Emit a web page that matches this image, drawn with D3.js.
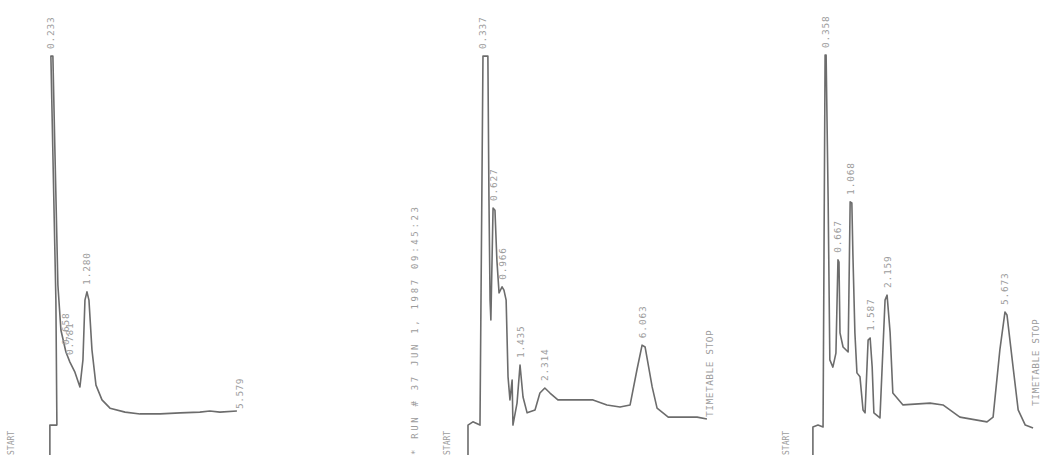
<!DOCTYPE html>
<html>
<head>
<meta charset="utf-8">
<script src="https://cdn.jsdelivr.net/npm/d3@7/dist/d3.min.js"></script>
<style>
  body { margin: 0; background: #fff; }
  svg { display: block; }
  text { font-family: 'DejaVu Sans Mono', monospace; fill: #9c9c9c; }
</style>
</head>
<body>
<svg id="chart" width="1048" height="459"></svg>
<script>
// three integrator runs: retention time (min) vs detector signal (% of tallest peak)
var run1Time   = [0.17, 0.17, 0.38, 0.35, 0.20, 0.26, 0.32, 0.41, 0.50, 0.65, 0.77, 0.92, 1.07, 1.16, 1.22, 1.28, 1.34, 1.43, 1.55, 1.73, 1.97, 2.42, 2.87, 3.47, 4.07, 4.66, 4.96, 5.26, 5.77];
var run1Signal = [-11.1, -2.8, -2.8, 31.9, 99.7, 99.7, 73.6, 36.1, 23.6, 17.5, 14.7, 11.9, 7.8, 15.3, 31.9, 34.2, 31.9, 18.1, 8.3, 4.2, 1.9, 0.8, 0.3, 0.3, 0.6, 0.8, 1.1, 0.8, 1.1];
var run1Peaks  = ['0.233', '0.658', '0.781', '1.280'];
var run1End    = '5.579';

var run2Time   = [-0.36, -0.36, -0.18, 0.08, 0.19, 0.37, 0.41, 0.45, 0.48, 0.56, 0.63, 0.70, 0.78, 0.89, 0.96, 1.04, 1.07, 1.11, 1.18, 1.26, 1.29, 1.44, 1.55, 1.66, 1.81, 2.10, 2.28, 2.46, 2.65, 2.94, 3.38, 4.23, 4.74, 5.22, 5.59, 5.84, 6.03, 6.14, 6.40, 6.58, 6.99, 8.05, 8.41];
var run2Signal = [-11.1, -2.8, -1.9, -2.8, 99.7, 99.7, 59.7, 31.9, 26.4, 57.5, 56.9, 43.1, 33.9, 35.6, 34.7, 31.9, 22.8, 10.6, 4.2, 9.7, -2.8, 3.3, 13.9, 5.0, 0.6, 1.4, 6.1, 7.5, 6.1, 4.2, 4.2, 4.2, 2.8, 2.2, 2.8, 12.5, 19.4, 18.9, 7.8, 1.9, -0.6, -0.6, -1.1];
var run2Peaks  = ['0.337', '0.627', '0.966', '1.435', '2.314', '6.063'];
var run2End    = 'TIMETABLE STOP';
var run2Header = '* RUN #  37      JUN 1, 1987  09:45:23';

var run3Time   = [0.00, 0.00, 0.15, 0.30, 0.36, 0.39, 0.45, 0.50, 0.59, 0.68, 0.74, 0.77, 0.80, 0.89, 1.04, 1.10, 1.15, 1.18, 1.24, 1.30, 1.39, 1.48, 1.54, 1.63, 1.69, 1.75, 1.80, 1.98, 2.13, 2.19, 2.28, 2.36, 2.66, 3.46, 3.84, 4.34, 5.14, 5.32, 5.52, 5.67, 5.73, 5.91, 6.06, 6.27, 6.50];
var run3Signal = [-11.1, -3.3, -2.8, -3.3, 100, 100, 59.7, 15.3, 13.3, 17.2, 43.1, 42.5, 22.8, 18.9, 17.5, 59.2, 58.9, 45.0, 22.8, 11.7, 10.6, 1.4, 0.6, 20.8, 21.4, 13.3, 0.6, -0.8, 31.9, 33.3, 22.8, 6.1, 2.8, 3.3, 2.8, -0.6, -1.9, -0.6, 18.1, 28.6, 27.8, 13.3, 1.4, -2.8, -3.6];
var run3Peaks  = ['0.358', '0.667', '1.068', '1.587', '2.159', '5.673'];
var run3End    = 'TIMETABLE STOP';

var svg = d3.select('#chart');

var y = d3.scaleLinear().domain([0, 100]).range([415, 55]);

var runs = [
  { time: run1Time, signal: run1Signal, peaks: run1Peaks, end: run1End,
    x: d3.scaleLinear().domain([0, 6]).range([44.2, 244.6]), startX: 14, endLift: 2 },
  { time: run2Time, signal: run2Signal, peaks: run2Peaks, end: run2End,
    x: d3.scaleLinear().domain([0, 9]).range([477.8, 723.0]), startX: 450, endLift: 2 },
  { time: run3Time, signal: run3Signal, peaks: run3Peaks, end: run3End,
    x: d3.scaleLinear().domain([0, 7]).range([812.9, 1050]), startX: 789, endLift: 22 }
];

// point that a printed retention time belongs to:
// the tallest local maximum nearby, otherwise the nearest point
function peakIndex(run, t) {
  var s = run.signal, best = -1, near = 0;
  run.time.forEach(function (v, i) {
    if (Math.abs(v - t) < Math.abs(run.time[near] - t)) near = i;
    if (Math.abs(v - t) > 0.15) return;
    var isMax = (i === 0 || s[i] >= s[i - 1]) && (i === s.length - 1 || s[i] >= s[i + 1]);
    if (isMax && (best < 0 || s[i] > s[best])) best = i;
  });
  return best < 0 ? near : best;
}

runs.forEach(function (run) {
  var pts = run.time.map(function (t, i) { return [t, run.signal[i]]; });

  var line = d3.line()
    .x(function (d) { return run.x(d[0]); })
    .y(function (d) { return y(d[1]); });

  svg.append('path')
    .attr('d', line(pts))
    .attr('fill', 'none')
    .attr('stroke', '#6c6c6c')
    .attr('stroke-width', 1.6)
    .attr('stroke-linejoin', 'round');

  // retention time labels above each peak
  run.peaks.forEach(function (lab) {
    var i = peakIndex(run, +lab);
    svg.append('text')
      .attr('transform', 'translate(' + (run.x(run.time[i]) + 3.5) + ',' + (y(run.signal[i]) - 7) + ') rotate(-90)')
      .attr('font-size', 9.5)
      .attr('letter-spacing', 0.8)
      .text(lab);
  });

  // end-of-run note
  var last = pts.length - 1;
  svg.append('text')
    .attr('transform', 'translate(' + (run.x(run.time[last]) + 6) + ',' + (y(run.signal[last]) - run.endLift) + ') rotate(-90)')
    .attr('font-size', 9.5)
    .attr('letter-spacing', 0.5)
    .text(run.end);

  svg.append('text')
    .attr('transform', 'translate(' + run.startX + ',455) rotate(-90)')
    .attr('font-size', 8)
    .text('START');
});

// run header printed by the integrator
svg.append('text')
  .attr('transform', 'translate(418,455) rotate(-90)')
  .attr('font-size', 9)
  .attr('textLength', 248)
  .attr('lengthAdjust', 'spacing')
  .text(run2Header);
</script>
</body>
</html>
